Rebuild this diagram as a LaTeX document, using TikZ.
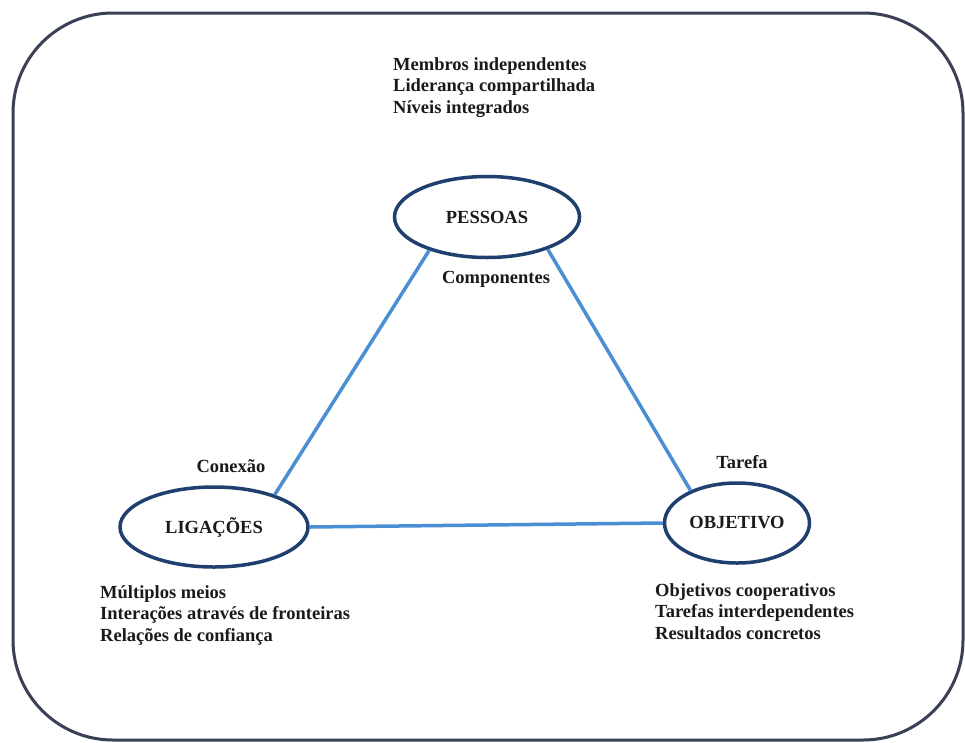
\documentclass[tikz,border=0pt]{standalone}
\usepackage{fontspec}
\setmainfont{Liberation Serif}[BoldFont={Liberation Serif Bold}]
\usetikzlibrary{shapes.geometric,positioning}
\definecolor{framegray}{HTML}{3A4055}
\definecolor{navyline}{HTML}{1F3F6E}
\definecolor{linkblue}{HTML}{4A8FD4}
\definecolor{textdark}{HTML}{1A1A1A}

\begin{document}
\begin{tikzpicture}[x=1pt,y=-1pt,%
            group/.style={ellipse, draw=navyline, line width=3.5pt, fill=white, inner sep=0pt,
                text=textdark, font=\bfseries\fontsize{18.5}{21.5}\selectfont},
            link/.style={draw=linkblue, line width=3.5pt},
            tag/.style={inner sep=0pt, text=textdark, font=\bfseries\fontsize{18.5}{21.5}\selectfont},
            itemlist/.style={tag, align=left, anchor=north west}
        ]

        \useasboundingbox[fill=white] (0,0) rectangle (965,742);

        % Outer frame
        \draw[framegray, line width=3pt, rounded corners=100pt] (13,13) rectangle (963,740);

        % Groups
        \node[group, minimum width=185pt, minimum height=81pt] (pessoas) at (487,217) {PESSOAS};
        \node[group, minimum width=188pt, minimum height=80pt] (ligacoes) at (214,527) {LIGAÇÕES};
        \node[group, minimum width=145pt, minimum height=80pt] (objetivo) at (737,523) {OBJETIVO};

        % Connections between groups
        \draw[link] (pessoas.210) -- (ligacoes.28);
        \draw[link] (pessoas.332) -- (objetivo.145);
        \draw[link] (ligacoes.east) -- (objetivo.west);

        % Edge names
        \node[tag] (componentes) [below=12pt of pessoas, xshift=9pt] {Componentes};
        \node[tag] (conexao) [above=12pt of ligacoes, xshift=17pt] {Conexão};
        \node[tag] (tarefa) [above=12pt of objetivo, xshift=5pt] {Tarefa};

        % Lists of features
        \node[itemlist] (pessoaslist) at (393,57) {Membros independentes\\Liderança compartilhada\\Níveis integrados};
        \node[itemlist] (ligacoeslist) at (100,585) {Múltiplos meios\\Interações através de fronteiras\\Relações de confiança};
        \node[itemlist] (objetivolist) at (655,583) {Objetivos cooperativos\\Tarefas interdependentes\\Resultados concretos};

        \end{tikzpicture}
\end{document}
